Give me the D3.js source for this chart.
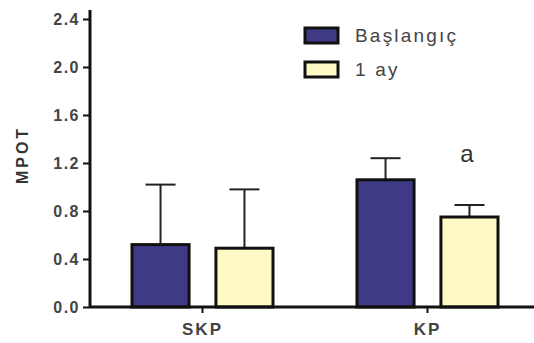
<!DOCTYPE html>
<html><head><meta charset="utf-8">
<script src="https://cdn.jsdelivr.net/npm/d3@7"></script>
<style>body{margin:0;background:#fff}svg{display:block}</style>
</head><body><svg id="c" width="534" height="343"></svg>
<script>
const categories = ["SKP", "KP"];
const seriesNames = ["Başlangıç", "1 ay"];
const baslangic = [0.52, 1.06];
const baslangicErr = [0.50, 0.18];
const birAy = [0.49, 0.75];
const birAyErr = [0.49, 0.10];
const yTicks = [0.0, 0.4, 0.8, 1.2, 1.6, 2.0, 2.4];
const colors = ["#3e3a86", "#fdfac6"];
const FONT = "Liberation Sans, Arial, sans-serif";

const svg = d3.select("#c");
const x0 = 90, xRight = 540, yBottom = 307;
const y = d3.scaleLinear().domain([0, 2.4]).range([yBottom, 19]);
const x = d3.scaleBand().domain(categories).range([x0, xRight]);
const xs = d3.scaleBand().domain(seriesNames).range([-70.5, 70.5]).paddingInner(0.32);

const data = categories.map((c, i) => ({c, vals: [
  {s: seriesNames[0], v: baslangic[i], e: baslangicErr[i]},
  {s: seriesNames[1], v: birAy[i], e: birAyErr[i]}]}));

const g = svg.append("g");
data.forEach(d => {
  d.vals.forEach((b, j) => {
    const cx = x(d.c) + x.bandwidth()/2 + xs(b.s);
    const w = xs.bandwidth();
    const mid = cx + w/2;
    g.append("line").attr("x1", mid).attr("x2", mid)
      .attr("y1", y(b.v)).attr("y2", y(b.v + b.e)).attr("stroke", "#222").attr("stroke-width", 2);
    g.append("line").attr("x1", mid - 15).attr("x2", mid + 15)
      .attr("y1", y(b.v + b.e)).attr("y2", y(b.v + b.e)).attr("stroke", "#222").attr("stroke-width", 2);
    g.append("rect").attr("x", cx).attr("y", y(b.v)).attr("width", w).attr("height", yBottom - y(b.v))
      .attr("fill", colors[j]).attr("stroke", "#111").attr("stroke-width", 3);
  });
});

// y axis
const ya = svg.append("g").attr("transform", `translate(${x0},0)`)
  .call(d3.axisLeft(y).tickValues(yTicks).tickFormat(d3.format(".1f")).tickSize(7).tickSizeOuter(0));
ya.select(".domain").attr("stroke", "#111").attr("stroke-width", 3).attr("d", `M0,10V${yBottom}`);
ya.selectAll(".tick line").attr("stroke", "#111").attr("stroke-width", 2);
ya.selectAll(".tick text").attr("font-family", FONT)
  .attr("font-size", 16).attr("font-weight", "bold").attr("fill", "#444").attr("x", -10)
  .attr("letter-spacing", 1.5);

// x axis
const xa = svg.append("g").attr("transform", `translate(0,${yBottom})`)
  .call(d3.axisBottom(x).tickSize(6).tickSizeOuter(0));
xa.select(".domain").attr("stroke", "#111").attr("stroke-width", 3).attr("d", `M${x0},0H534`);
xa.selectAll(".tick line").attr("stroke", "#111").attr("stroke-width", 2);
xa.selectAll(".tick text").attr("font-family", FONT)
  .attr("font-size", 17).attr("font-weight", "bold").attr("fill", "#444").attr("y", 28).attr("dy", 0)
  .attr("letter-spacing", 2);

// y label
svg.append("text").attr("transform", "translate(28,155) rotate(-90)").attr("text-anchor", "middle")
  .attr("font-family", FONT).attr("font-size", 16).attr("font-weight", "bold")
  .attr("letter-spacing", 3).attr("fill", "#333").text("MPOT");

// legend
const lg = svg.append("g");
seriesNames.forEach((s, i) => {
  const yy = 28 + i * 34;
  lg.append("rect").attr("x", 305).attr("y", yy).attr("width", 33).attr("height", 15)
    .attr("fill", colors[i]).attr("stroke", "#111").attr("stroke-width", 3);
  lg.append("text").attr("x", 355).attr("y", yy + 14).attr("font-family", FONT)
    .attr("font-size", 19).attr("letter-spacing", 2.2).attr("fill", "#444").text(s);
});

// annotation
svg.append("text").attr("x", 467).attr("y", 162).attr("text-anchor", "middle")
  .attr("font-family", FONT).attr("font-size", 24).attr("fill", "#333").text("a");
</script></body></html>
